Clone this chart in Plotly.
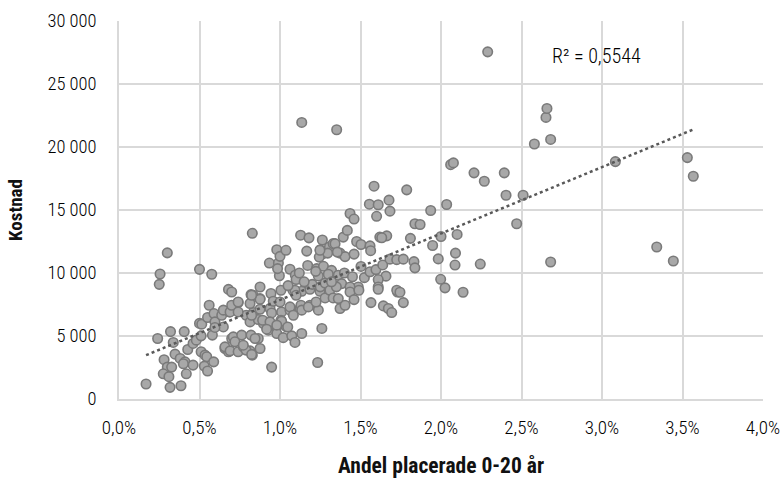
import numpy as np
import plotly.graph_objects as go

# Andel placerade 0-20 år (percent) and Kostnad
andel_pct = [
    0.168, 0.317, 0.385, 0.24, 0.32, 0.405, 0.337, 0.348, 0.28, 0.38, 0.41, 0.30, 0.327, 0.275, 0.31,
    0.418, 0.46, 0.427, 0.46, 0.48, 0.50, 0.51, 0.51, 0.534, 0.545, 0.53, 0.55, 0.588, 0.514, 0.55,
    0.56, 0.59, 0.596, 0.58, 0.30, 0.255, 0.25, 0.50, 0.576, 0.40,
    0.638, 0.648, 0.68, 0.70, 0.685, 0.70, 0.658, 0.68, 0.648, 0.596, 0.69, 0.79, 0.834, 0.876, 0.938,
    0.948, 0.74, 0.70, 0.828, 0.82, 0.834, 0.876, 0.876, 0.944, 0.934, 0.98, 0.99, 0.814, 0.865, 0.897,
    0.928, 0.98, 0.71, 0.762, 0.82, 0.865, 0.72, 0.658, 0.69, 0.74, 0.772, 0.814, 0.828, 0.876, 0.948,
    0.74, 0.824, 0.892, 0.938, 0.917, 0.789, 0.845, 0.814, 0.876, 0.958, 0.74, 0.824, 0.772, 0.824,
    1.0, 1.037, 0.996, 0.985, 1.062, 1.095, 1.10, 1.128, 1.18, 1.263, 1.166, 1.172, 1.228, 1.238, 1.27,
    1.006, 1.08, 1.135, 1.01, 1.062, 1.124, 1.186, 1.006, 1.04, 0.98, 1.02, 1.073, 1.093, 1.135, 1.26,
    1.234, 1.135, 1.093, 1.10, 1.186, 1.248, 1.0, 1.062, 1.13, 1.135, 1.176, 1.238, 1.224, 1.28, 1.01,
    1.083, 1.048, 0.98, 1.25, 1.307, 1.265, 1.244, 1.296, 1.248, 1.222, 1.32, 1.20, 1.25, 1.28, 1.30,
    1.05, 1.15, 1.12,
    1.352, 1.33, 1.373, 1.404, 1.46, 1.476, 1.503, 1.559, 1.563, 1.393, 1.418, 1.435, 1.46, 1.555, 1.584,
    1.61, 1.60, 1.342, 1.356, 1.31, 1.33, 1.362, 1.383, 1.486, 1.435, 1.373, 1.404, 1.435, 1.49, 1.46,
    1.362, 1.565, 1.503, 1.524, 1.559, 1.596, 1.40, 1.45, 1.35, 1.32,
    1.62, 1.663, 1.632, 1.677, 1.683, 1.787, 1.81, 1.838, 1.87, 1.638, 1.683, 1.725, 1.766, 1.832, 1.838,
    1.658, 1.61, 1.61, 1.61, 1.642, 1.673, 1.694, 1.73, 1.766, 1.725, 1.745, 1.936, 1.948, 1.983, 2.0,
    1.998,
    2.025, 2.035, 2.06, 2.077, 2.10, 2.09, 2.087, 2.137, 2.205, 2.269, 2.244, 2.29, 2.393, 2.404, 2.47,
    2.51, 2.58, 2.652, 2.658, 2.681, 2.681, 3.083, 3.34, 3.443, 3.53, 3.567,
]
kostnad = [
    1190, 925, 1050, 4800, 5350, 5350, 4490, 3560, 3120, 3220, 2950, 2530, 2530, 2000, 1770,
    2000, 2690, 3930, 4410, 4670, 6000, 5010, 3750, 3480, 3350, 2610, 2220, 2950, 5940, 6470,
    7440, 6780, 6120, 5070, 11600, 9920, 9100, 10290, 9900, 2800,
    6650, 5720, 8700, 8490, 6910, 4800, 4010, 3750, 7050, 5680, 6910, 6650, 6860, 7120, 7180,
    6830, 7650, 7440, 13150, 8290, 8230, 7970, 8890, 8370, 10790, 11850, 10790, 6120, 6310, 5990,
    5460, 5720, 4930, 5070, 5070, 4800, 4540, 4140, 3820, 3750, 4140, 3820, 3480, 4010, 2530,
    6910, 6650, 6250, 6120, 5540, 3880, 4800, 7580, 7920, 7760, 7700, 8230, 4270, 3540,
    11320, 11800, 9780, 10350, 10300, 9820, 9480, 13000, 12790, 12620, 11740, 10600, 10350, 9760, 10530,
    8630, 8630, 8550, 6910, 7050, 7180, 7440, 6250, 5720, 5200, 4870, 5010, 4490, 5200, 5600,
    2900, 21950, 8630, 8230, 8710, 8550, 7700, 7310, 7440, 7050, 7310, 7050, 7700, 8020, 6170,
    6650, 5720, 5860, 11850, 12060, 11530, 11260, 11580, 11800, 10130, 10210, 9100, 8900, 9200, 9900,
    9000, 9300, 10000,
    21370, 12330, 11580, 11300, 11500, 12500, 12260, 12150, 11770, 12850, 13380, 14720, 14280, 15460, 16890,
    15420, 14500, 12330, 11660, 8630, 8020, 9820, 9160, 8890, 8890, 7180, 7440, 8490, 8630, 7890,
    7970, 7650, 10520, 9630, 10100, 10270, 10000, 9700, 8900, 9300,
    12850, 12950, 12800, 15780, 14910, 16600, 12750, 13910, 13850, 10640, 11100, 11060, 11100, 10900, 10410,
    9750, 9480, 8890, 8710, 7390, 7180, 6860, 8490, 7650, 8630, 8470, 14960, 12180, 11120, 12900,
    9500,
    8820, 15440, 18600, 18740, 13060, 11580, 10630, 8470, 17950, 17280, 10710, 27550, 17950, 16170, 13910,
    16170, 20240, 22350, 23060, 20600, 10870, 18840, 12060, 10950, 19160, 17680,
]

x_tick_vals = [0.0, 0.005, 0.01, 0.015, 0.02, 0.025, 0.03, 0.035, 0.04]
y_tick_vals = [0, 5000, 10000, 15000, 20000, 25000, 30000]
r2_label = "R² = 0,5544"
x_title = "Andel placerade 0-20 år"
y_title = "Kostnad"

x = np.array(andel_pct) / 100.0
y = np.array(kostnad, dtype=float)

slope, intercept = np.polyfit(x, y, 1)
trend_x = np.array([x.min(), x.max()])
trend_y = slope * trend_x + intercept

FONT = "Roboto Condensed, Liberation Sans Narrow, sans-serif"

fig = go.Figure()
fig.add_trace(go.Scatter(
    x=x, y=y, mode="markers",
    marker=dict(size=9.5, color="#A8A8A8", line=dict(color="#7A7A7A", width=1.6)),
    showlegend=False, hoverinfo="skip",
))
fig.add_trace(go.Scatter(
    x=trend_x, y=trend_y, mode="lines",
    line=dict(color="#595959", width=2.5, dash="dot"),
    showlegend=False, hoverinfo="skip",
))

fig.add_annotation(
    x=0.0268, y=27230, xref="x", yref="y", text=r2_label, showarrow=False,
    xanchor="left", yanchor="middle",
    font=dict(family=FONT, size=20, color="#000000", weight=300),
)

fig.update_layout(
    width=783, height=478,
    margin=dict(l=119, r=20, t=21, b=79),
    paper_bgcolor="white", plot_bgcolor="white",
    separators=", ",
    font=dict(family=FONT, size=19, color="#111111"),
    xaxis=dict(
        range=[0, 0.04], tickvals=x_tick_vals, tickformat=".1%",
        showgrid=True, gridcolor="#D9D9D9", gridwidth=1.5,
        showline=True, linecolor="#D9D9D9", linewidth=1.5,
        zeroline=False, ticks="", ticklabelstandoff=10, automargin=False,
        tickfont=dict(size=19, weight=300, color="#000000"),
        title=dict(text="<b>" + x_title + "</b>", font=dict(size=21.5), standoff=22),
    ),
    yaxis=dict(
        range=[0, 30000], tickvals=y_tick_vals, tickformat=",.0f",
        showgrid=True, gridcolor="#D9D9D9", gridwidth=1.5,
        showline=True, linecolor="#D9D9D9", linewidth=1.5,
        zeroline=False, ticks="", ticklabelstandoff=17, automargin=False,
        tickfont=dict(size=18.5, weight=300, color="#000000"),
        title=dict(text="<b>" + y_title + "</b>", font=dict(size=19), standoff=20),
    ),
)

fig.write_html("out.html", config={"displayModeBar": False},
               post_script="document.body.style.margin='0';")
